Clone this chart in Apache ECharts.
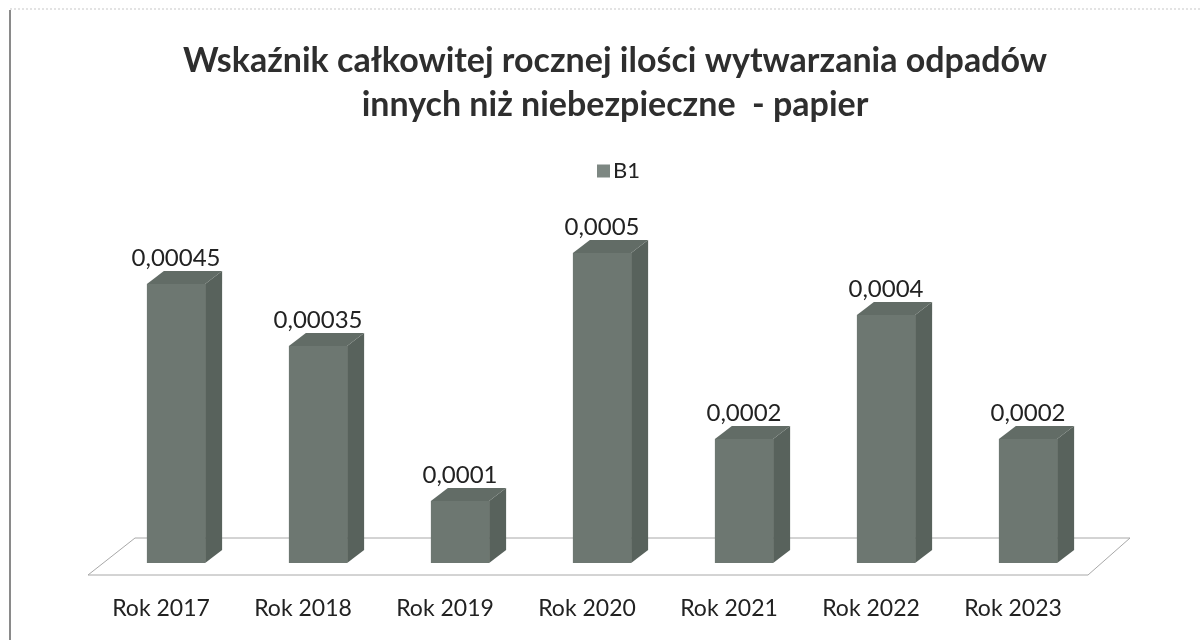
<!DOCTYPE html>
<html>
<head>
<meta charset="utf-8">
<script src="https://cdn.jsdelivr.net/npm/echarts@6/dist/echarts.min.js"></script>
<style>
html,body{margin:0;padding:0;background:#fff;}
#chart{width:1200px;height:640px;}
</style>
</head>
<body>
<div id="chart"></div>
<script>
const titleText = 'Wskaźnik całkowitej rocznej ilości wytwarzania odpadów\ninnych niż niebezpieczne  - papier';
const seriesName = 'B1';
const categories = ['Rok 2017','Rok 2018','Rok 2019','Rok 2020','Rok 2021','Rok 2022','Rok 2023'];
const values = [0.00045, 0.00035, 0.0001, 0.0005, 0.0002, 0.0004, 0.0002];

const FRONT = '#6d7771', SIDE = '#58625c', TOP = '#626c66';
const DX = 17, DY = -13;

const chart = echarts.init(document.getElementById('chart'));

function fmt(v){ return String(v).replace('.', ','); }

const option = {
  backgroundColor: '#fff',
  animation: false,
  title: {
    text: titleText,
    left: 610,
    textAlign: 'center',
    top: 34,
    textStyle: {fontFamily: 'Lato', fontWeight: 'bold', fontSize: 34, color: '#2e2e2e', lineHeight: 44}
  },
  legend: {
    top: 155,
    left: 592,
    itemWidth: 13, itemHeight: 13,
    itemGap: 6,
    icon: 'rect',
    textStyle: {fontFamily: 'Lato', fontSize: 22, color: '#222', padding: [0, 0, 0, -2]},
    data: [{name: seriesName, itemStyle: {color: '#7d8782'}}]
  },
  grid: {left: 105, right: 101, top: 253, bottom: 77},
  xAxis: {
    type: 'category',
    data: categories,
    axisLine: {show: false}, axisTick: {show: false}, splitLine: {show: false},
    axisLabel: {margin: 34, fontFamily: 'Lato', fontSize: 23, color: '#222', padding: [0, 30, 0, 0]}
  },
  yAxis: {
    type: 'value', min: 0, max: 0.0005, interval: 0.0001,
    show: false, splitLine: {show: false}
  },
  graphic: [
    {type: 'line', shape: {x1: 10, y1: 10, x2: 10, y2: 640}, style: {stroke: '#8a8a8a', lineWidth: 2}},
    {type: 'line', shape: {x1: 10, y1: 9, x2: 1200, y2: 9}, style: {stroke: '#c8c8c8', lineWidth: 1, lineDash: [2, 2]}}
  ],
  series: [
    {
      type: 'custom',
      name: 'floor',
      silent: true,
      z: 1,
      data: [[0, 0]],
      renderItem: function(params, api) {
        const first = api.coord([0, 0]);
        const last = api.coord([categories.length - 1, 0]);
        const band = api.size([1, 0])[0];
        const l = first[0] - band / 2, r = last[0] + band / 2, y = first[1];
        return {
          type: 'polygon',
          shape: {points: [[l - 17, y + 12], [r - 11, y + 12], [r + 31, y - 25], [l + 30, y - 25]]},
          style: {fill: '#fff', stroke: '#a8a8a8', lineWidth: 1}
        };
      }
    },
    {
      type: 'custom',
      name: seriesName,
      z: 2,
      data: values.map((v, i) => [i, v]),
      encode: {x: 0, y: 1},
      renderItem: function(params, api) {
        const top = api.coord([api.value(0), api.value(1)]);
        const base = api.coord([api.value(0), 0]);
        const w = api.size([1, 0])[0] * 0.41;
        const x0 = top[0] - w / 2, x1 = top[0] + w / 2;
        const yt = top[1], yb = base[1];
        return {
          type: 'group',
          children: [
            {type: 'polygon', shape: {points: [[x1, yt], [x1 + DX, yt + DY], [x1 + DX, yb + DY], [x1, yb]]}, style: {fill: SIDE}},
            {type: 'polygon', shape: {points: [[x0, yt], [x0 + DX, yt + DY], [x1 + DX, yt + DY], [x1, yt]]}, style: {fill: TOP}},
            {type: 'rect', shape: {x: x0, y: yt, width: w, height: yb - yt}, style: {fill: FRONT}},
            {type: 'text', style: {
              text: fmt(api.value(1)), x: top[0], y: yt + DY - 1,
              align: 'center', verticalAlign: 'bottom',
              font: '24px Lato', fill: '#222'
            }}
          ]
        };
      },
      itemStyle: {color: '#7d8782'}
    }
  ]
};
chart.setOption(option);
</script>
</body>
</html>
